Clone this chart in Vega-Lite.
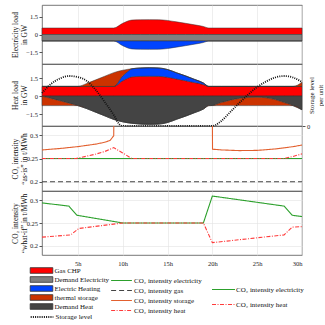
{
  "$schema": "https://vega.github.io/schema/vega-lite/v6.json",
  "padding": {"left": 10, "top": 4, "right": 0, "bottom": 0},
  "bounds": "flush",
  "spacing": 0,
  "config": {
    "font": "Liberation Serif",
    "view": {"stroke": "#555555", "strokeWidth": 0.8},
    "axis": {"labelFont": "Liberation Serif", "titleFont": "Liberation Serif", "labelFontSize": 6.5, "titleFontSize": 7.5, "titleFontWeight": "normal", "labelColor": "#222222", "titleColor": "#111111", "gridColor": "#e3e3e3", "gridWidth": 0.6, "domain": false, "tickColor": "#555555", "tickSize": 3, "labelPadding": 1.5, "titleLineHeight": 9},
    "legend": {"labelFont": "Liberation Serif", "labelFontSize": 7, "labelColor": "#111111", "padding": 0}
  },
  "datasets": {
    "elec": [
      {"h": 1, "series": "Gas CHP", "ord": 1, "v": 0.55}, {"h": 1, "series": "Demand Electricity", "ord": 2, "v": -0.55}, {"h": 1, "series": "Electric Heating", "ord": 3, "v": -0.001},
      {"h": 9, "series": "Gas CHP", "ord": 1, "v": 0.55}, {"h": 9, "series": "Demand Electricity", "ord": 2, "v": -0.55}, {"h": 9, "series": "Electric Heating", "ord": 3, "v": -0.001},
      {"h": 10, "series": "Gas CHP", "ord": 1, "v": 0.95}, {"h": 10, "series": "Demand Electricity", "ord": 2, "v": -0.55}, {"h": 10, "series": "Electric Heating", "ord": 3, "v": -0.4},
      {"h": 11, "series": "Gas CHP", "ord": 1, "v": 1.22}, {"h": 11, "series": "Demand Electricity", "ord": 2, "v": -0.55}, {"h": 11, "series": "Electric Heating", "ord": 3, "v": -0.67},
      {"h": 12, "series": "Gas CHP", "ord": 1, "v": 1.25}, {"h": 12, "series": "Demand Electricity", "ord": 2, "v": -0.55}, {"h": 12, "series": "Electric Heating", "ord": 3, "v": -0.7},
      {"h": 13, "series": "Gas CHP", "ord": 1, "v": 1.26}, {"h": 13, "series": "Demand Electricity", "ord": 2, "v": -0.55}, {"h": 13, "series": "Electric Heating", "ord": 3, "v": -0.71},
      {"h": 14, "series": "Gas CHP", "ord": 1, "v": 1.25}, {"h": 14, "series": "Demand Electricity", "ord": 2, "v": -0.55}, {"h": 14, "series": "Electric Heating", "ord": 3, "v": -0.7},
      {"h": 15, "series": "Gas CHP", "ord": 1, "v": 1.19}, {"h": 15, "series": "Demand Electricity", "ord": 2, "v": -0.55}, {"h": 15, "series": "Electric Heating", "ord": 3, "v": -0.64},
      {"h": 16, "series": "Gas CHP", "ord": 1, "v": 1.07}, {"h": 16, "series": "Demand Electricity", "ord": 2, "v": -0.55}, {"h": 16, "series": "Electric Heating", "ord": 3, "v": -0.52},
      {"h": 17, "series": "Gas CHP", "ord": 1, "v": 0.95}, {"h": 17, "series": "Demand Electricity", "ord": 2, "v": -0.55}, {"h": 17, "series": "Electric Heating", "ord": 3, "v": -0.4},
      {"h": 18, "series": "Gas CHP", "ord": 1, "v": 0.82}, {"h": 18, "series": "Demand Electricity", "ord": 2, "v": -0.55}, {"h": 18, "series": "Electric Heating", "ord": 3, "v": -0.27},
      {"h": 19, "series": "Gas CHP", "ord": 1, "v": 0.68}, {"h": 19, "series": "Demand Electricity", "ord": 2, "v": -0.55}, {"h": 19, "series": "Electric Heating", "ord": 3, "v": -0.13},
      {"h": 19.6, "series": "Gas CHP", "ord": 1, "v": 0.55}, {"h": 19.6, "series": "Demand Electricity", "ord": 2, "v": -0.55}, {"h": 19.6, "series": "Electric Heating", "ord": 3, "v": -0.001},
      {"h": 30, "series": "Gas CHP", "ord": 1, "v": 0.55}, {"h": 30, "series": "Demand Electricity", "ord": 2, "v": -0.55}, {"h": 30, "series": "Electric Heating", "ord": 3, "v": -0.001}
    ],
    "heat": [
      {"h": 1, "series": "Gas CHP", "ord": 1, "v": 0.8}, {"h": 1, "series": "Electric Heating", "ord": 2, "v": 0}, {"h": 1, "series": "thermal storage", "ord": 3, "v": 0}, {"h": 1, "series": "Demand Heat", "ord": 4, "v": -0.02}, {"h": 1, "series": "thermal storage", "ord": 5, "v": -0.78},
      {"h": 2, "series": "Gas CHP", "ord": 1, "v": 0.8}, {"h": 2, "series": "Electric Heating", "ord": 2, "v": 0}, {"h": 2, "series": "thermal storage", "ord": 3, "v": 0}, {"h": 2, "series": "Demand Heat", "ord": 4, "v": -0.2}, {"h": 2, "series": "thermal storage", "ord": 5, "v": -0.6},
      {"h": 3, "series": "Gas CHP", "ord": 1, "v": 0.8}, {"h": 3, "series": "Electric Heating", "ord": 2, "v": 0}, {"h": 3, "series": "thermal storage", "ord": 3, "v": 0}, {"h": 3, "series": "Demand Heat", "ord": 4, "v": -0.4}, {"h": 3, "series": "thermal storage", "ord": 5, "v": -0.4},
      {"h": 4, "series": "Gas CHP", "ord": 1, "v": 0.8}, {"h": 4, "series": "Electric Heating", "ord": 2, "v": 0}, {"h": 4, "series": "thermal storage", "ord": 3, "v": 0}, {"h": 4, "series": "Demand Heat", "ord": 4, "v": -0.6}, {"h": 4, "series": "thermal storage", "ord": 5, "v": -0.2},
      {"h": 5, "series": "Gas CHP", "ord": 1, "v": 0.8}, {"h": 5, "series": "Electric Heating", "ord": 2, "v": 0}, {"h": 5, "series": "thermal storage", "ord": 3, "v": 0}, {"h": 5, "series": "Demand Heat", "ord": 4, "v": -0.8}, {"h": 5, "series": "thermal storage", "ord": 5, "v": -0.001},
      {"h": 6, "series": "Gas CHP", "ord": 1, "v": 0.8}, {"h": 6, "series": "Electric Heating", "ord": 2, "v": 0}, {"h": 6, "series": "thermal storage", "ord": 3, "v": 0.25}, {"h": 6, "series": "Demand Heat", "ord": 4, "v": -1.05}, {"h": 6, "series": "thermal storage", "ord": 5, "v": -0.001},
      {"h": 7, "series": "Gas CHP", "ord": 1, "v": 0.8}, {"h": 7, "series": "Electric Heating", "ord": 2, "v": 0}, {"h": 7, "series": "thermal storage", "ord": 3, "v": 0.55}, {"h": 7, "series": "Demand Heat", "ord": 4, "v": -1.35}, {"h": 7, "series": "thermal storage", "ord": 5, "v": -0.001},
      {"h": 8, "series": "Gas CHP", "ord": 1, "v": 0.8}, {"h": 8, "series": "Electric Heating", "ord": 2, "v": 0}, {"h": 8, "series": "thermal storage", "ord": 3, "v": 0.85}, {"h": 8, "series": "Demand Heat", "ord": 4, "v": -1.65}, {"h": 8, "series": "thermal storage", "ord": 5, "v": -0.001},
      {"h": 9, "series": "Gas CHP", "ord": 1, "v": 0.8}, {"h": 9, "series": "Electric Heating", "ord": 2, "v": 0}, {"h": 9, "series": "thermal storage", "ord": 3, "v": 1.15}, {"h": 9, "series": "Demand Heat", "ord": 4, "v": -1.95}, {"h": 9, "series": "thermal storage", "ord": 5, "v": -0.001},
      {"h": 10, "series": "Gas CHP", "ord": 1, "v": 1.28}, {"h": 10, "series": "Electric Heating", "ord": 2, "v": 0.4}, {"h": 10, "series": "thermal storage", "ord": 3, "v": 0.47}, {"h": 10, "series": "Demand Heat", "ord": 4, "v": -2.15}, {"h": 10, "series": "thermal storage", "ord": 5, "v": -0.001},
      {"h": 10.5, "series": "Gas CHP", "ord": 1, "v": 1.46}, {"h": 10.5, "series": "Electric Heating", "ord": 2, "v": 0.55}, {"h": 10.5, "series": "thermal storage", "ord": 3, "v": 0.21}, {"h": 10.5, "series": "Demand Heat", "ord": 4, "v": -2.22}, {"h": 10.5, "series": "thermal storage", "ord": 5, "v": -0.001},
      {"h": 11, "series": "Gas CHP", "ord": 1, "v": 1.6}, {"h": 11, "series": "Electric Heating", "ord": 2, "v": 0.67}, {"h": 11, "series": "thermal storage", "ord": 3, "v": 0}, {"h": 11, "series": "Demand Heat", "ord": 4, "v": -2.27}, {"h": 11, "series": "thermal storage", "ord": 5, "v": -0.001},
      {"h": 12, "series": "Gas CHP", "ord": 1, "v": 1.64}, {"h": 12, "series": "Electric Heating", "ord": 2, "v": 0.7}, {"h": 12, "series": "thermal storage", "ord": 3, "v": 0}, {"h": 12, "series": "Demand Heat", "ord": 4, "v": -2.34}, {"h": 12, "series": "thermal storage", "ord": 5, "v": -0.001},
      {"h": 13, "series": "Gas CHP", "ord": 1, "v": 1.65}, {"h": 13, "series": "Electric Heating", "ord": 2, "v": 0.71}, {"h": 13, "series": "thermal storage", "ord": 3, "v": 0}, {"h": 13, "series": "Demand Heat", "ord": 4, "v": -2.36}, {"h": 13, "series": "thermal storage", "ord": 5, "v": -0.001},
      {"h": 14, "series": "Gas CHP", "ord": 1, "v": 1.64}, {"h": 14, "series": "Electric Heating", "ord": 2, "v": 0.7}, {"h": 14, "series": "thermal storage", "ord": 3, "v": 0}, {"h": 14, "series": "Demand Heat", "ord": 4, "v": -2.34}, {"h": 14, "series": "thermal storage", "ord": 5, "v": -0.001},
      {"h": 15, "series": "Gas CHP", "ord": 1, "v": 1.57}, {"h": 15, "series": "Electric Heating", "ord": 2, "v": 0.64}, {"h": 15, "series": "thermal storage", "ord": 3, "v": 0}, {"h": 15, "series": "Demand Heat", "ord": 4, "v": -2.21}, {"h": 15, "series": "thermal storage", "ord": 5, "v": -0.001},
      {"h": 16, "series": "Gas CHP", "ord": 1, "v": 1.42}, {"h": 16, "series": "Electric Heating", "ord": 2, "v": 0.52}, {"h": 16, "series": "thermal storage", "ord": 3, "v": 0}, {"h": 16, "series": "Demand Heat", "ord": 4, "v": -1.94}, {"h": 16, "series": "thermal storage", "ord": 5, "v": -0.001},
      {"h": 17, "series": "Gas CHP", "ord": 1, "v": 1.28}, {"h": 17, "series": "Electric Heating", "ord": 2, "v": 0.4}, {"h": 17, "series": "thermal storage", "ord": 3, "v": 0}, {"h": 17, "series": "Demand Heat", "ord": 4, "v": -1.68}, {"h": 17, "series": "thermal storage", "ord": 5, "v": -0.001},
      {"h": 18, "series": "Gas CHP", "ord": 1, "v": 1.12}, {"h": 18, "series": "Electric Heating", "ord": 2, "v": 0.27}, {"h": 18, "series": "thermal storage", "ord": 3, "v": 0}, {"h": 18, "series": "Demand Heat", "ord": 4, "v": -1.39}, {"h": 18, "series": "thermal storage", "ord": 5, "v": -0.001},
      {"h": 19, "series": "Gas CHP", "ord": 1, "v": 0.96}, {"h": 19, "series": "Electric Heating", "ord": 2, "v": 0.13}, {"h": 19, "series": "thermal storage", "ord": 3, "v": 0}, {"h": 19, "series": "Demand Heat", "ord": 4, "v": -1.09}, {"h": 19, "series": "thermal storage", "ord": 5, "v": -0.001},
      {"h": 19.6, "series": "Gas CHP", "ord": 1, "v": 0.8}, {"h": 19.6, "series": "Electric Heating", "ord": 2, "v": 0}, {"h": 19.6, "series": "thermal storage", "ord": 3, "v": 0}, {"h": 19.6, "series": "Demand Heat", "ord": 4, "v": -0.8}, {"h": 19.6, "series": "thermal storage", "ord": 5, "v": -0.001},
      {"h": 20, "series": "Gas CHP", "ord": 1, "v": 0.8}, {"h": 20, "series": "Electric Heating", "ord": 2, "v": 0}, {"h": 20, "series": "thermal storage", "ord": 3, "v": 0}, {"h": 20, "series": "Demand Heat", "ord": 4, "v": -0.79}, {"h": 20, "series": "thermal storage", "ord": 5, "v": -0.01},
      {"h": 21, "series": "Gas CHP", "ord": 1, "v": 0.8}, {"h": 21, "series": "Electric Heating", "ord": 2, "v": 0}, {"h": 21, "series": "thermal storage", "ord": 3, "v": 0}, {"h": 21, "series": "Demand Heat", "ord": 4, "v": -0.55}, {"h": 21, "series": "thermal storage", "ord": 5, "v": -0.25},
      {"h": 22, "series": "Gas CHP", "ord": 1, "v": 0.8}, {"h": 22, "series": "Electric Heating", "ord": 2, "v": 0}, {"h": 22, "series": "thermal storage", "ord": 3, "v": 0}, {"h": 22, "series": "Demand Heat", "ord": 4, "v": -0.35}, {"h": 22, "series": "thermal storage", "ord": 5, "v": -0.45},
      {"h": 23, "series": "Gas CHP", "ord": 1, "v": 0.8}, {"h": 23, "series": "Electric Heating", "ord": 2, "v": 0}, {"h": 23, "series": "thermal storage", "ord": 3, "v": 0}, {"h": 23, "series": "Demand Heat", "ord": 4, "v": -0.2}, {"h": 23, "series": "thermal storage", "ord": 5, "v": -0.6},
      {"h": 24, "series": "Gas CHP", "ord": 1, "v": 0.8}, {"h": 24, "series": "Electric Heating", "ord": 2, "v": 0}, {"h": 24, "series": "thermal storage", "ord": 3, "v": 0}, {"h": 24, "series": "Demand Heat", "ord": 4, "v": -0.12}, {"h": 24, "series": "thermal storage", "ord": 5, "v": -0.68},
      {"h": 25, "series": "Gas CHP", "ord": 1, "v": 0.8}, {"h": 25, "series": "Electric Heating", "ord": 2, "v": 0}, {"h": 25, "series": "thermal storage", "ord": 3, "v": 0}, {"h": 25, "series": "Demand Heat", "ord": 4, "v": -0.1}, {"h": 25, "series": "thermal storage", "ord": 5, "v": -0.7},
      {"h": 26, "series": "Gas CHP", "ord": 1, "v": 0.8}, {"h": 26, "series": "Electric Heating", "ord": 2, "v": 0}, {"h": 26, "series": "thermal storage", "ord": 3, "v": 0}, {"h": 26, "series": "Demand Heat", "ord": 4, "v": -0.15}, {"h": 26, "series": "thermal storage", "ord": 5, "v": -0.65},
      {"h": 27, "series": "Gas CHP", "ord": 1, "v": 0.8}, {"h": 27, "series": "Electric Heating", "ord": 2, "v": 0}, {"h": 27, "series": "thermal storage", "ord": 3, "v": 0}, {"h": 27, "series": "Demand Heat", "ord": 4, "v": -0.3}, {"h": 27, "series": "thermal storage", "ord": 5, "v": -0.5},
      {"h": 28, "series": "Gas CHP", "ord": 1, "v": 0.8}, {"h": 28, "series": "Electric Heating", "ord": 2, "v": 0}, {"h": 28, "series": "thermal storage", "ord": 3, "v": 0}, {"h": 28, "series": "Demand Heat", "ord": 4, "v": -0.55}, {"h": 28, "series": "thermal storage", "ord": 5, "v": -0.25},
      {"h": 29, "series": "Gas CHP", "ord": 1, "v": 0.8}, {"h": 29, "series": "Electric Heating", "ord": 2, "v": 0}, {"h": 29, "series": "thermal storage", "ord": 3, "v": 0}, {"h": 29, "series": "Demand Heat", "ord": 4, "v": -0.8}, {"h": 29, "series": "thermal storage", "ord": 5, "v": -0.001},
      {"h": 30, "series": "Gas CHP", "ord": 1, "v": 0.8}, {"h": 30, "series": "Electric Heating", "ord": 2, "v": 0}, {"h": 30, "series": "thermal storage", "ord": 3, "v": 0.35}, {"h": 30, "series": "Demand Heat", "ord": 4, "v": -1.15}, {"h": 30, "series": "thermal storage", "ord": 5, "v": -0.001}
    ],
    "storage": [
      {"h": 1, "level": 0.66, "name": "Storage level"}, {"h": 2, "level": 0.84, "name": "Storage level"}, {"h": 3, "level": 0.95, "name": "Storage level"}, {"h": 4, "level": 1.0, "name": "Storage level"}, {"h": 5, "level": 0.98, "name": "Storage level"}, {"h": 6, "level": 0.9, "name": "Storage level"}, {"h": 7, "level": 0.72, "name": "Storage level"}, {"h": 8, "level": 0.48, "name": "Storage level"}, {"h": 9, "level": 0.22, "name": "Storage level"}, {"h": 9.6, "level": 0.04, "name": "Storage level"}, {"h": 10, "level": 0, "name": "Storage level"}, {"h": 15, "level": 0, "name": "Storage level"}, {"h": 20, "level": 0, "name": "Storage level"}, {"h": 21, "level": 0.1, "name": "Storage level"}, {"h": 22, "level": 0.28, "name": "Storage level"}, {"h": 23, "level": 0.46, "name": "Storage level"}, {"h": 24, "level": 0.63, "name": "Storage level"}, {"h": 25, "level": 0.78, "name": "Storage level"}, {"h": 26, "level": 0.89, "name": "Storage level"}, {"h": 27, "level": 0.97, "name": "Storage level"}, {"h": 28, "level": 1.0, "name": "Storage level"}, {"h": 29, "level": 0.97, "name": "Storage level"}, {"h": 30, "level": 0.88, "name": "Storage level"}
    ],
    "asis": [
      {"h": 1, "line": "CO₂ intensity gas", "v": 0.2}, {"h": 30, "line": "CO₂ intensity gas", "v": 0.2},
      {"h": 1, "line": "CO₂ intensity electricity", "v": 0.25}, {"h": 30, "line": "CO₂ intensity electricity", "v": 0.25},
      {"h": 1, "line": "CO₂ intensity storage", "v": 0.2685}, {"h": 3, "line": "CO₂ intensity storage", "v": 0.2715}, {"h": 5, "line": "CO₂ intensity storage", "v": 0.2756}, {"h": 7, "line": "CO₂ intensity storage", "v": 0.281}, {"h": 8, "line": "CO₂ intensity storage", "v": 0.285}, {"h": 8.6, "line": "CO₂ intensity storage", "v": 0.289}, {"h": 9, "line": "CO₂ intensity storage", "v": 0.299}, {"h": 9.02, "line": "CO₂ intensity storage", "v": 0.34}, {"h": 15, "line": "CO₂ intensity storage", "v": null}, {"h": 20, "line": "CO₂ intensity storage", "v": 0.34}, {"h": 20.02, "line": "CO₂ intensity storage", "v": 0.27}, {"h": 21, "line": "CO₂ intensity storage", "v": 0.2685}, {"h": 23, "line": "CO₂ intensity storage", "v": 0.267}, {"h": 25, "line": "CO₂ intensity storage", "v": 0.2675}, {"h": 27, "line": "CO₂ intensity storage", "v": 0.2705}, {"h": 29, "line": "CO₂ intensity storage", "v": 0.2755}, {"h": 30, "line": "CO₂ intensity storage", "v": 0.279},
      {"h": 1, "line": "CO₂ intensity heat", "v": 0.25}, {"h": 4.8, "line": "CO₂ intensity heat", "v": 0.25}, {"h": 6, "line": "CO₂ intensity heat", "v": 0.255}, {"h": 7, "line": "CO₂ intensity heat", "v": 0.2595}, {"h": 8, "line": "CO₂ intensity heat", "v": 0.265}, {"h": 9, "line": "CO₂ intensity heat", "v": 0.2735}, {"h": 10, "line": "CO₂ intensity heat", "v": 0.262}, {"h": 11, "line": "CO₂ intensity heat", "v": 0.25}, {"h": 28, "line": "CO₂ intensity heat", "v": 0.25}, {"h": 29, "line": "CO₂ intensity heat", "v": 0.2545}, {"h": 30, "line": "CO₂ intensity heat", "v": 0.26}
    ],
    "whatif": [
      {"h": 1, "line": "CO₂ intensity electricity", "v": 0.294}, {"h": 4, "line": "CO₂ intensity electricity", "v": 0.287}, {"h": 4.9, "line": "CO₂ intensity electricity", "v": 0.267}, {"h": 10, "line": "CO₂ intensity electricity", "v": 0.25}, {"h": 19, "line": "CO₂ intensity electricity", "v": 0.25}, {"h": 20, "line": "CO₂ intensity electricity", "v": 0.309}, {"h": 28, "line": "CO₂ intensity electricity", "v": 0.287}, {"h": 28.9, "line": "CO₂ intensity electricity", "v": 0.267}, {"h": 30, "line": "CO₂ intensity electricity", "v": 0.264},
      {"h": 1, "line": "CO₂ intensity heat", "v": 0.219}, {"h": 4.2, "line": "CO₂ intensity heat", "v": 0.224}, {"h": 5.1, "line": "CO₂ intensity heat", "v": 0.238}, {"h": 10, "line": "CO₂ intensity heat", "v": 0.25}, {"h": 19, "line": "CO₂ intensity heat", "v": 0.25}, {"h": 20, "line": "CO₂ intensity heat", "v": 0.207}, {"h": 28, "line": "CO₂ intensity heat", "v": 0.224}, {"h": 28.9, "line": "CO₂ intensity heat", "v": 0.241}, {"h": 30, "line": "CO₂ intensity heat", "v": 0.242}
    ]
  },
  "resolve": {
    "scale": {"fill": "independent", "stroke": "independent", "strokeDash": "independent"},
    "legend": {"fill": "independent", "stroke": "independent", "strokeDash": "independent"}
  },
  "vconcat": [
    {
      "width": 260, "height": 59,
      "data": {"name": "elec"},
      "mark": {"type": "area", "stroke": "#333333", "strokeWidth": 0.5, "opacity": 1, "interpolate": "monotone"},
      "encoding": {
        "x": {"field": "h", "type": "quantitative", "scale": {"domain": [1, 30], "nice": false, "zero": false}, "axis": {"values": [5, 10, 15, 20, 25, 30], "labels": false, "ticks": false, "title": null, "grid": true}},
        "y": {"field": "v", "type": "quantitative", "stack": "zero", "scale": {"domain": [-2.5, 2.5], "nice": false}, "axis": {"values": [-1.5, 0, 1.5], "format": ".1~f", "title": ["Electricity load", "in GW"], "grid": false, "titleX": -23}},
        "fill": {"field": "series", "type": "nominal", "scale": {"domain": ["Gas CHP", "Demand Electricity", "Electric Heating", "thermal storage", "Demand Heat"], "range": ["#ff0000", "#808080", "#0044ff", "#cc3300", "#444444"]}, "legend": null},
        "order": {"field": "ord", "type": "quantitative"},
        "detail": {"field": "ord", "type": "nominal"}
      }
    },
    {
      "width": 260, "height": 62,
      "layer": [
        {
          "data": {"name": "heat"},
          "mark": {"type": "area", "stroke": "#333333", "strokeWidth": 0.5, "opacity": 1, "interpolate": "monotone"},
          "encoding": {
            "x": {"field": "h", "type": "quantitative", "scale": {"domain": [1, 30], "nice": false, "zero": false}, "axis": {"values": [5, 10, 15, 20, 25, 30], "labels": false, "ticks": false, "title": null, "grid": true}},
            "y": {"field": "v", "type": "quantitative", "stack": "zero", "scale": {"domain": [-2.5, 2.67], "nice": false}, "axis": {"values": [-1.5, 0, 1.5], "format": ".1~f", "title": ["Heat load", "in GW"], "grid": false, "titleX": -23}},
            "fill": {"field": "series", "type": "nominal", "scale": {"domain": ["Gas CHP", "Demand Electricity", "Electric Heating", "thermal storage", "Demand Heat"], "range": ["#ff0000", "#808080", "#0044ff", "#cc3300", "#444444"]},
              "legend": {"orient": "none", "legendX": -4, "legendY": 203, "title": null, "symbolType": "M-4,-1H4V1H-4Z", "symbolSize": 32, "symbolStrokeColor": "#333333", "symbolStrokeWidth": 0.8, "symbolOpacity": 1, "labelOffset": 9.5, "rowPadding": 0}},
            "order": {"field": "ord", "type": "quantitative"},
            "detail": {"field": "ord", "type": "nominal"}
          }
        },
        {
          "data": {"name": "storage"},
          "mark": {"type": "line", "strokeWidth": 1.8, "interpolate": "monotone"},
          "encoding": {
            "x": {"field": "h", "type": "quantitative"},
            "y": {"field": "level", "type": "quantitative", "scale": {"domain": [0, 1.24], "nice": false}, "axis": {"orient": "right", "values": [0], "title": ["Storage level", "per unit"], "grid": false, "titleAngle": 270, "titleX": 12.5, "titleY": 31, "titleBaseline": "bottom", "titleAlign": "center", "titleFontSize": 7}},
            "stroke": {"field": "name", "type": "nominal", "scale": {"range": ["#111111"]},
              "legend": {"orient": "none", "legendX": -4, "legendY": 249, "title": null, "symbolType": "M-4,0H4", "symbolSize": 32, "symbolStrokeWidth": 1.8, "labelOffset": 9.5}},
            "strokeDash": {"field": "name", "type": "nominal", "scale": {"range": [[1, 1.2]]},
              "legend": {"orient": "none", "legendX": -4, "legendY": 249, "title": null, "symbolType": "M-4,0H4", "symbolSize": 32, "symbolStrokeWidth": 1.8, "labelOffset": 9.5}}
          }
        }
      ],
      "resolve": {"scale": {"y": "independent"}}
    },
    {
      "width": 260, "height": 65,
      "data": {"name": "asis"},
      "mark": {"type": "line", "strokeWidth": 1.1, "clip": true},
      "encoding": {
        "x": {"field": "h", "type": "quantitative", "scale": {"domain": [1, 30], "nice": false, "zero": false}, "axis": {"values": [5, 10, 15, 20, 25, 30], "labels": false, "ticks": false, "title": null, "grid": true}},
        "y": {"field": "v", "type": "quantitative", "scale": {"domain": [0.18, 0.32], "nice": false, "zero": false}, "axis": {"values": [0.2, 0.25, 0.3], "format": ".2~f", "title": ["CO₂ intensity", "“as-is” in t/MWh"], "grid": true, "titleX": -23}},
        "stroke": {"field": "line", "type": "nominal", "scale": {"domain": ["CO₂ intensity electricity", "CO₂ intensity gas", "CO₂ intensity storage", "CO₂ intensity heat"], "range": ["#2ca02c", "#444444", "#e2602f", "#ff3b3b"]},
          "legend": {"orient": "none", "legendX": 76, "legendY": 151, "title": null, "symbolType": "M-4,0H4", "symbolSize": 27, "symbolStrokeWidth": 1.2, "labelOffset": 9, "rowPadding": 2}},
        "strokeDash": {"field": "line", "type": "nominal", "scale": {"domain": ["CO₂ intensity electricity", "CO₂ intensity gas", "CO₂ intensity storage", "CO₂ intensity heat"], "range": [[1, 0], [5, 3], [1, 0], [4, 1.5, 1, 1.5]]},
          "legend": {"orient": "none", "legendX": 76, "legendY": 151, "title": null, "symbolType": "M-4,0H4", "symbolSize": 27, "symbolStrokeWidth": 1.2, "labelOffset": 9, "rowPadding": 2}}
      }
    },
    {
      "width": 260, "height": 64,
      "data": {"name": "whatif"},
      "mark": {"type": "line", "strokeWidth": 1.1, "clip": true},
      "encoding": {
        "x": {"field": "h", "type": "quantitative", "scale": {"domain": [1, 30], "nice": false, "zero": false}, "axis": {"values": [5, 10, 15, 20, 25, 30], "labelExpr": "datum.value + 'h'", "ticks": false, "title": null, "grid": true, "labelPadding": 5}},
        "y": {"field": "v", "type": "quantitative", "scale": {"domain": [0.18, 0.32], "nice": false, "zero": false}, "axis": {"values": [0.2, 0.25, 0.3], "format": ".2~f", "title": ["CO₂ intensity", "“what-if” in t/MWh"], "grid": true, "titleX": -23}},
        "stroke": {"field": "line", "type": "nominal", "scale": {"domain": ["CO₂ intensity electricity", "CO₂ intensity heat"], "range": ["#2ca02c", "#ff3b3b"]},
          "legend": {"orient": "none", "legendX": 178, "legendY": 95, "title": null, "symbolType": "M-4,0H4", "symbolSize": 33, "symbolStrokeWidth": 1.2, "labelOffset": 9, "rowPadding": 7}},
        "strokeDash": {"field": "line", "type": "nominal", "scale": {"domain": ["CO₂ intensity electricity", "CO₂ intensity heat"], "range": [[1, 0], [4, 1.5, 1, 1.5]]},
          "legend": {"orient": "none", "legendX": 178, "legendY": 95, "title": null, "symbolType": "M-4,0H4", "symbolSize": 33, "symbolStrokeWidth": 1.2, "labelOffset": 9, "rowPadding": 7}}
      }
    }
  ]
}
